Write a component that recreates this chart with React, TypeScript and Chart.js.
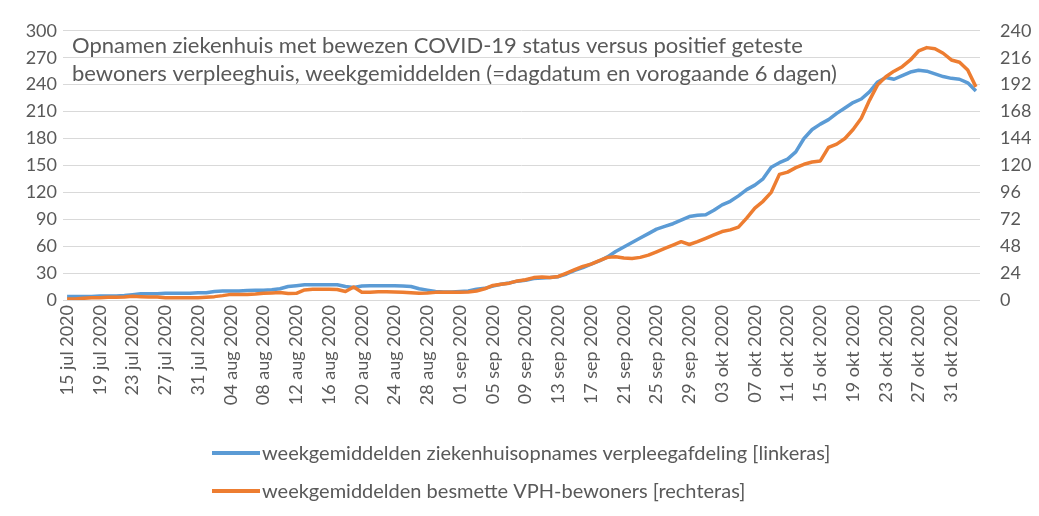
import { useEffect, useRef } from "react";
import { Chart, registerables } from "chart.js";

Chart.register(...registerables);

// ---- categories (daily, 15 jul 2020 .. 03 nov 2020) ----
const MONTHS = ["jan", "feb", "mrt", "apr", "mei", "jun", "jul", "aug", "sep", "okt", "nov", "dec"];
const START_DATE = new Date(2020, 6, 15);
const DAY_COUNT = 112;
const dateLabels: string[] = Array.from({ length: DAY_COUNT }, (_, i) => {
  const d = new Date(START_DATE.getFullYear(), START_DATE.getMonth(), START_DATE.getDate() + i);
  const dd = String(d.getDate()).padStart(2, "0");
  return `${dd} ${MONTHS[d.getMonth()]} ${d.getFullYear()}`;
});

// ---- series: weekgemiddelden ziekenhuisopnames verpleegafdeling (left axis) ----
const hospitalAdmissions = [
  4, 4, 4, 4, 4.5, 4.5, 4.5, 5,
  6, 7, 7, 7, 7.5, 7.5, 7.5, 7.5,
  8, 8, 9.5, 10, 10, 10, 10.5, 11,
  11, 11.5, 12.5, 15, 16, 17, 17, 17,
  17, 17, 15, 14, 15.5, 16, 16, 16,
  16, 15.5, 15, 12.5, 11, 9.5, 9, 9,
  9.5, 10, 12, 13, 15.5, 17.5, 19, 21,
  22, 24, 24.5, 25, 26, 29, 33, 36,
  40, 43.5, 48, 54, 59, 64, 69, 74,
  79, 82, 85, 89, 93, 94.5, 95, 100,
  106, 110, 116, 123, 128, 135, 148, 153,
  157, 165, 180, 190, 196, 201, 208, 214,
  220, 224, 232, 243, 248, 246, 250, 254,
  256, 255, 252, 249, 247, 246, 242, 233,
];

// ---- series: weekgemiddelden besmette VPH-bewoners (right axis) ----
const infectedResidents = [
  1, 1, 1.5, 2, 2, 2.5, 2.5, 2.7,
  3.3, 3, 2.7, 2.6, 2, 2, 2, 2,
  2.1, 2.5, 3, 3.9, 5, 5, 5, 5.3,
  6, 6.3, 6.7, 5.8, 6, 9, 9.6, 9.6,
  9.5, 9.4, 7.6, 11.6, 7, 7, 7.3, 7.3,
  7.2, 7, 6.5, 6, 6.2, 6.8, 7, 7,
  7, 7.2, 8, 10, 13, 14, 15, 17,
  18, 20, 20.5, 20, 21, 24, 27, 30,
  32, 35, 38, 38.5, 37.5, 37, 38, 40,
  43, 46, 49, 52, 49.5, 52, 55, 58,
  61, 62.5, 65, 73, 82, 88, 96, 112,
  114, 118, 121, 123, 124, 136, 139, 144,
  152, 162, 178, 192, 199, 204, 208, 214,
  222, 225, 224, 220, 214, 212, 205, 190,
];

// ---- axes ----
const LEFT_MAX = 300;
const LEFT_STEP = 30;
const RIGHT_MAX = 240;
const RIGHT_STEP = 24;

const TITLE_LINES = [
  "Opnamen ziekenhuis met bewezen COVID-19 status versus positief geteste",
  "bewoners verpleeghuis, weekgemiddelden (=dagdatum en vorogaande 6 dagen)",
];
const LEGEND_LEFT = "weekgemiddelden ziekenhuisopnames verpleegafdeling [linkeras]";
const LEGEND_RIGHT = "weekgemiddelden besmette VPH-bewoners [rechteras]";

const BLUE = "#5B9BD5";
const ORANGE = "#ED7D31";
const TEXT = "#595959";
const GRID = "#D9D9D9";
const FONT = "Lato, 'Open Sans', sans-serif";

const overlayPlugin = {
  id: "overlay",
  afterDraw(chart: any) {
    const { ctx, chartArea } = chart;
    ctx.save();
    // title inside plot area
    ctx.fillStyle = TEXT;
    ctx.font = `22px ${FONT}`;
    ctx.textAlign = "left";
    ctx.textBaseline = "alphabetic";
    TITLE_LINES.forEach((line, i) => {
      ctx.fillText(line, chartArea.left + 9, chartArea.top + 22 + i * 28);
    });
    // legend
    const items = [
      { text: LEGEND_LEFT, color: BLUE, y: 453 },
      { text: LEGEND_RIGHT, color: ORANGE, y: 491 },
    ];
    ctx.font = `20px ${FONT}`;
    ctx.textBaseline = "middle";
    items.forEach((it) => {
      ctx.strokeStyle = it.color;
      ctx.lineWidth = 4;
      ctx.lineCap = "butt";
      ctx.beginPath();
      ctx.moveTo(212, it.y);
      ctx.lineTo(260, it.y);
      ctx.stroke();
      ctx.fillStyle = TEXT;
      ctx.fillText(it.text, 262, it.y + 1);
    });
    ctx.restore();
  },
};

export default function App() {
  const ref = useRef<HTMLCanvasElement>(null);

  useEffect(() => {
    const canvas = ref.current;
    if (!canvas) return;
    const chart = new Chart(canvas, {
      type: "line",
      data: {
        labels: dateLabels,
        datasets: [
          {
            label: LEGEND_LEFT,
            data: hospitalAdmissions,
            yAxisID: "yL",
            borderColor: BLUE,
            backgroundColor: BLUE,
            borderWidth: 3.5,
            pointRadius: 0,
            tension: 0,
            borderJoinStyle: "round",
            order: 1,
          },
          {
            label: LEGEND_RIGHT,
            data: infectedResidents,
            yAxisID: "yR",
            borderColor: ORANGE,
            backgroundColor: ORANGE,
            borderWidth: 3.5,
            pointRadius: 0,
            tension: 0,
            borderJoinStyle: "round",
            order: 0,
          },
        ],
      },
      options: {
        responsive: false,
        animation: false,
        layout: { padding: { top: 20, bottom: 110, left: 0, right: 0 } },
        plugins: {
          legend: { display: false },
          tooltip: { enabled: false },
        },
        scales: {
          x: {
            offset: true,
            grid: { display: false, drawTicks: false },
            border: { display: false },
            ticks: {
              autoSkip: false,
              minRotation: 90,
              maxRotation: 90,
              padding: 5,
              color: TEXT,
              font: { family: FONT, size: 18 },
              callback: (_v: any, i: number) => (i % 4 === 0 ? dateLabels[i] : ""),
            },
            afterFit: (s: any) => {
              s.height = 106;
            },
          },
          yL: {
            position: "left",
            min: 0,
            max: LEFT_MAX,
            grid: { color: GRID, lineWidth: 1, drawTicks: false },
            border: { display: false },
            ticks: {
              stepSize: LEFT_STEP,
              padding: 6,
              color: TEXT,
              font: { family: FONT, size: 18 },
            },
            afterFit: (s: any) => {
              s.width = 63;
            },
          },
          yR: {
            position: "right",
            min: 0,
            max: RIGHT_MAX,
            grid: { display: false, drawTicks: false },
            border: { display: false },
            ticks: {
              stepSize: RIGHT_STEP,
              padding: 20,
              color: TEXT,
              font: { family: FONT, size: 18 },
            },
            afterFit: (s: any) => {
              s.width = 59;
            },
          },
        },
      },
      plugins: [overlayPlugin],
    });
    return () => chart.destroy();
  }, []);

  return (
    <div style={{ position: "absolute", left: 0, top: 0, width: 1039, height: 516, background: "#fff" }}>
      <canvas ref={ref} width={1039} height={516} style={{ display: "block" }} />
    </div>
  );
}
